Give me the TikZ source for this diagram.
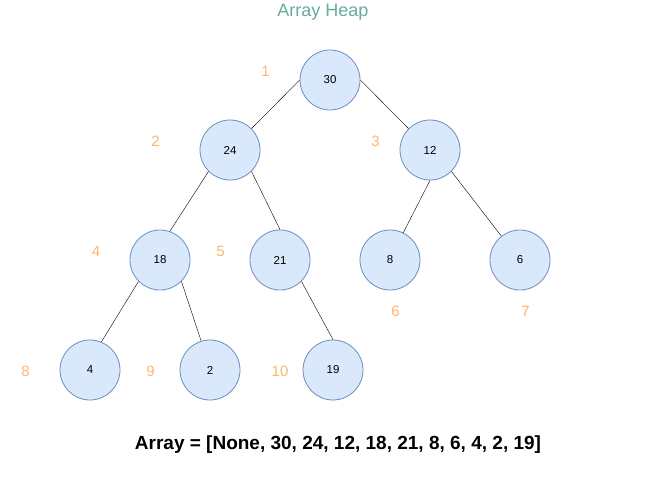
\documentclass[tikz,border=0pt]{standalone}
\usepackage{fontspec}
\setmainfont{Liberation Sans}
\usepackage{tikz}

\definecolor{heapfill}{HTML}{DAE8FC}
\definecolor{heapline}{HTML}{6C8EBF}
\definecolor{idxorange}{HTML}{FFB570}
\definecolor{titleteal}{HTML}{67AB9F}

\begin{document}
\begin{tikzpicture}[x=1pt,y=-1pt,
  heapnode/.style={circle, draw=heapline, fill=heapfill, line width=0.8pt, minimum size=60pt, inner sep=0pt, font=\fontsize{11.5}{12}\selectfont},
  idx/.style={text=idxorange, inner sep=0pt, font=\fontsize{15}{16}\selectfont}]
\useasboundingbox (0,0) rectangle (671,481);
\node[anchor=base, text=titleteal, font=\fontsize{18}{20}\selectfont] (title) at (323,17) {Array Heap};
\node[anchor=base, font=\bfseries\fontsize{19}{21}\selectfont] (arr) at (338,449) {Array = [None, 30, 24, 12, 18, 21, 8, 6, 4, 2, 19]};
% the heap
\node[heapnode] (n30) at (330,80) {30};
\node[heapnode] (n24) at (230,150) {24};
\node[heapnode] (n12) at (430,150) {12};
\node[heapnode] (n18) at (160,260) {18};
\node[heapnode] (n21) at (280,260) {21};
\node[heapnode] (n8) at (390,260) {8};
\node[heapnode] (n6) at (520,260) {6};
\node[heapnode] (n4) at (90,370) {4};
\node[heapnode] (n2) at (210,370) {2};
\node[heapnode] (n19) at (333,370) {19};
\draw (n30.west) -- (n24.45);
\draw (n30.east) -- (n12.135);
\draw (n24.south west) -- (n18.71);
\draw (n24.south east) -- (n21.north);
\draw (n12.south) -- (n8.64);
\draw (n12.south east) -- (n6.128);
\draw (n18.south west) -- (n4.68);
\draw (n18.south east) -- (n2.107);
\draw (n21.south east) -- (n19.north);
% array positions
\node[idx] (i1) at (265.5,71.5) {1};
\node[idx] (i2) at (155.5,141) {2};
\node[idx] (i3) at (375.5,141) {3};
\node[idx] (i4) at (96,251) {4};
\node[idx] (i5) at (220.5,251) {5};
\node[idx] (i6) at (395.5,311) {6};
\node[idx] (i7) at (525.5,311) {7};
\node[idx] (i8) at (25.5,371) {8};
\node[idx] (i9) at (150.5,371) {9};
\node[idx] (i10) at (280,371) {10};
\end{tikzpicture}
\end{document}
